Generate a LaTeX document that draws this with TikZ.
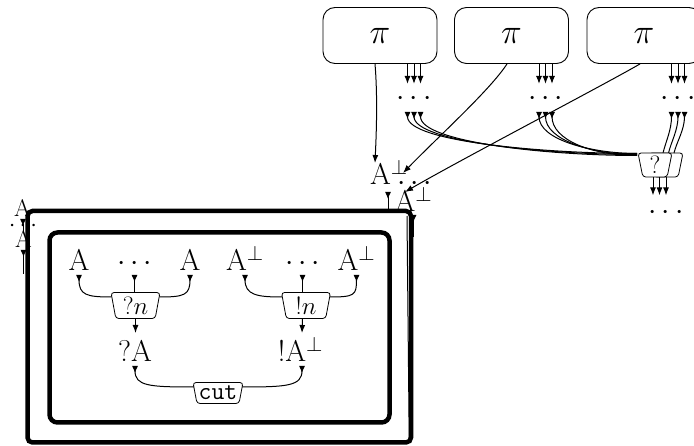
\documentclass[tikz,border=0pt]{standalone}
\usepackage{fix-cm}
\usetikzlibrary{arrows.meta,shapes.geometric,calc}
\begin{document}
\begin{tikzpicture}[x=1pt,y=-1pt,
  formula/.style={font=\fontsize{30}{36}\selectfont, inner sep=1pt, anchor=base},
  smallformula/.style={font=\fontsize{24}{28}\selectfont, inner sep=1pt, anchor=base},
  proofbox/.style={draw, line width=0.9pt, rounded corners=12pt, minimum width=114pt, minimum height=56pt, font=\fontsize{35}{40}\selectfont},
  linknode/.style={draw, fill=white, trapezium, shape border rotate=180, trapezium angle=76, trapezium stretches body, rounded corners=3pt, line width=0.8pt, inner sep=1pt, font=\fontsize{25}{29}\selectfont},
  wire/.style={line width=1pt},
  arr/.style={wire, -{Latex[length=8pt,width=6pt]}},
  premise/.style={wire, {Latex[reversed,length=7pt,width=6pt]}-},
  thickbox/.style={draw, line width=4.5pt}
]
\useasboundingbox (0,0) rectangle (694,446);
% exponential boxes
\node[thickbox, rounded corners=5pt, minimum width=383.5pt, minimum height=231.5pt] (outer) at (219.25,326.75) {};
\node[thickbox, rounded corners=8pt, minimum width=340pt, minimum height=190pt] (inner) at (219.5,327.5) {};
% proof boxes
\node[proofbox] (p1) at (380,35.5) {$\pi$};
\node[proofbox] (p2) at (511.5,35.5) {$\pi$};
\node[proofbox] (p3) at (644,35.5) {$\pi$};
% dots below boxes
\node[formula] (d1) at (414,106) {$\cdots$};
\node[formula] (d2) at (545.5,106) {$\cdots$};
\node[formula] (d3) at (678,106) {$\cdots$};
\foreach \p in {p1,p2,p3}{
  \foreach \o in {27.5,34,40.5}{
    \draw[arr] ($(\p.south)+(\o,0)$) -- ++(0,20);
  }
}
% A-perp cluster
\node[formula] (t1) at (389,185) {$\mathrm{A}^{\perp}$};
\node[formula] (td) at (414.5,190.5) {$\cdots$};
\node[formula] (t2) at (413.5,212) {$\mathrm{A}^{\perp}$};
% left stacked A
\node[smallformula] (s1) at (22.5,217) {A};
\node[smallformula] (sd) at (23,232) {$\cdots$};
\node[smallformula] (s2) at (23.5,248) {A};
% links at top right
\node[linknode, minimum width=34pt, minimum height=24pt] (q2) at (666,165) {$?$};
\foreach \o in {-6.5,0,6.5}{
  \draw[premise] ($(d1.base)+(\o,6)$) .. controls +(0,30) and +(-90,0) .. ($(q2.center)+(-29,-10.5+\o/6.5)$);
}
\foreach \o in {-6.5,0,6.5}{
  \draw[premise] ($(d2.base)+(\o,6)$) .. controls +(0,28) and +(-45,0) .. ($(q2.center)+(-29,-10.5+\o/6.5)$);
}
\foreach \o/\e in {-6.5/-3, 0/2.5, 6.5/8}{
  \draw[premise] ($(d3.base)+(\o,6)$) .. controls +(0,18) and +(3,-12) .. ($(q2.center)+(\e,-12)$);
}
\node[linknode, minimum width=34pt, minimum height=24pt] (q1) at (655,165) {$?$};
\node[formula] (qd) at (666,219.5) {$\cdots$};
\foreach \o in {-2,4.5,11}{
  \draw[arr] ($(q1.south)+(\o,0)$) -- ++(0,18);
}
% long arrows into the A-perp cluster
\draw[arr] ($(p1.south)+(-5,0)$) .. controls (378,100) and (376,140) .. ($(t1.base)+(-14,-22)$);
\draw[arr] ($(p2.south)+(-4.5,0)$) .. controls (490,90) and (440,135) .. ($(t1.base)+(14,-12)$);
\draw[arr] ($(p3.south)+(-4,0)$) .. controls (600,87) and (460,160) .. ($(t2.base)+(-8.5,-20)$);
% wires from the cluster
\draw[premise] ($(t1.base)+(-1,7)$) -- ++(0,20);
\draw[premise] ($(t2.base)+(0,3)$) -- ++(0,22);
\draw[wire] ($(t2.base)+(-6.5,4)$) -- ($(outer.south east)+(-4,-2)$);
\draw[premise] ($(s1.base)+(0.5,2)$) -- ++(0,12);
\draw[premise] ($(s2.base)+(0,2)$) -- ++(0,24);
% inside the box
\node[formula] (a1) at (79,271) {A};
\node[formula] (ad) at (134.5,271) {$\cdots$};
\node[formula] (a2) at (190,271) {A};
\node[formula] (b1) at (245,271) {$\mathrm{A}^{\perp}$};
\node[formula] (bd) at (302.5,271) {$\cdots$};
\node[formula] (b2) at (356.5,271) {$\mathrm{A}^{\perp}$};
\node[linknode, minimum width=49pt, minimum height=26pt] (qn) at (135.5,305.5) {$?n$};
\node[linknode, minimum width=49pt, minimum height=26pt] (bn) at (306,305.5) {$!n$};
\node[formula] (qA) at (135,362) {$?\mathrm{A}$};
\node[formula] (bA) at (300.5,362) {$!\mathrm{A}^{\perp}$};
\node[linknode, minimum width=50pt, minimum height=21pt] (cut) at (218,393) {\texttt{cut}};
\draw[premise] ($(a1.base)+(0,4)$) .. controls +(0,20) and +(-25,0) .. ($(qn.center)+(-24,-8.5)$);
\draw[premise] ($(a2.base)+(0,4)$) .. controls +(0,20) and +(25,0) .. ($(qn.center)+(24,-8.5)$);
\draw[premise] ($(ad.base)+(0,4)$) -- ($(ad.base)+(0,21.5)$);
\draw[premise] ($(b1.base)+(0,4)$) .. controls +(0,20) and +(-25,0) .. ($(bn.center)+(-24,-8.5)$);
\draw[premise] ($(b2.base)+(0,4)$) .. controls +(0,20) and +(25,0) .. ($(bn.center)+(24,-8.5)$);
\draw[premise] ($(bd.base)+(0,4)$) -- ($(bd.base)+(0,21.5)$);
\draw[arr] ($(qn.center)+(0,13)$) -- ($(qA.base)+(0.5,-29)$);
\draw[arr] ($(bn.center)+(-3.5,13)$) -- ($(bA.base)+(1.5,-29)$);
\draw[premise] ($(qA.base)+(0,4)$) .. controls +(0,20) and +(-45,0) .. ($(cut.center)+(-24,-6)$);
\draw[premise] ($(bA.base)+(1.5,4)$) .. controls +(0,20) and +(45,0) .. ($(cut.center)+(24,-6)$);
\end{tikzpicture}
\end{document}
